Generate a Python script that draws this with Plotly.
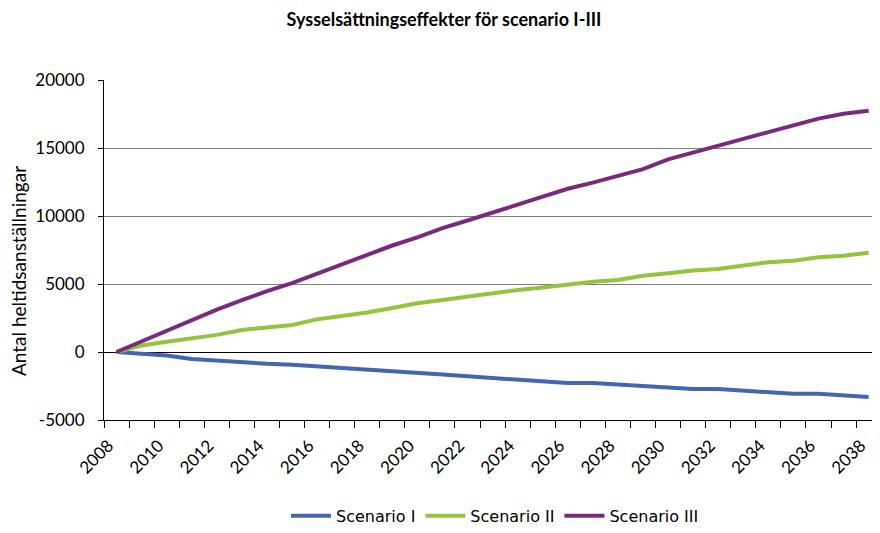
import plotly.graph_objects as go

# Years on the category axis
years = list(range(2008, 2039))

# Antal heltidsanställningar per scenario
scenario_1 = [0, -130, -260, -510, -650, -770, -860, -930, -1040, -1170,
              -1270, -1370, -1500, -1650, -1790, -1910, -2040, -2170, -2280, -2280,
              -2400, -2510, -2630, -2720, -2720, -2830, -2940, -3070, -3070, -3190,
              -3310]
scenario_2 = [0, 480, 760, 1030, 1260, 1620, 1800, 1990, 2400, 2650,
              2900, 3230, 3580, 3820, 4080, 4320, 4560, 4740, 4950, 5170,
              5300, 5600, 5790, 5990, 6100, 6360, 6600, 6710, 6970, 7080,
              7300]
scenario_3 = [0, 780, 1540, 2340, 3120, 3810, 4480, 5070, 5760, 6460,
              7110, 7830, 8430, 9110, 9670, 10280, 10830, 11420, 12000, 12450,
              12940, 13450, 14170, 14690, 15160, 15670, 16170, 16650, 17160, 17520,
              17740]

y_ticks = [-5000, 0, 5000, 10000, 15000, 20000]
y_ticktext = ['-5000', '0', '5000', '10000', '15000', '20000']

series = [
    ('Scenario I', scenario_1, '#4466B2'),
    ('Scenario II', scenario_2, '#93C43D'),
    ('Scenario III', scenario_3, '#7A2A7D'),
]

FONT = 'Lato, Open Sans, sans-serif'

fig = go.Figure()
for name, values, color in series:
    fig.add_trace(go.Scatter(x=years, y=values, mode='lines', name=name,
                             line=dict(color=color, width=4)))

# the page body has an 8px margin, so the figure is 864x517 and sits at (8, 8);
# plot area covers 104..872 x 80..420 in the window
x_end = years[0] - 0.5 + 768 / 25.07

fig.update_layout(
    width=864, height=517,
    margin=dict(l=96, r=0, t=72, b=105, autoexpand=False),
    paper_bgcolor='white', plot_bgcolor='white',
    font=dict(family=FONT, size=17, color='#000000'),
    title=dict(text='<b>Sysselsättningseffekter för scenario I-III</b>',
               font=dict(family=FONT, size=18, color='#000000'),
               x=436 / 864, xanchor='center', xref='container',
               y=1 - 12 / 517, yanchor='middle', yref='container',
               automargin=False),
    xaxis=dict(
        range=[years[0] - 0.5, x_end], automargin=False,
        tickmode='array', tickvals=years[::2], ticktext=[str(y) for y in years[::2]],
        tickangle=-45, ticks='', showgrid=False, zeroline=False,
        showline=True, linecolor='#000000', linewidth=1,
        ticklabelshift=-8, ticklabelstandoff=8,
        minor=dict(ticks='outside', ticklen=7, tickcolor='#000000', tickwidth=1,
                   tick0=years[0] - 0.5, dtick=1, showgrid=False),
    ),
    yaxis=dict(
        range=[-5000, 20000], automargin=False,
        tickmode='array', tickvals=y_ticks, ticktext=y_ticktext,
        ticks='outside', ticklen=5, tickcolor='#000000',
        showgrid=True, gridcolor='#7f7f7f', gridwidth=1,
        zeroline=True, zerolinecolor='#000000', zerolinewidth=1,
        showline=True, linecolor='#000000', linewidth=1,
        ticklabelstandoff=10,
    ),
    legend=dict(orientation='h', x=(495 - 104) / 768, xanchor='center', y=-0.232, yanchor='top',
                font=dict(family='DejaVu Sans, sans-serif', size=16, color='#000000'),
                itemwidth=40, tracegroupgap=0),
    showlegend=True,
    annotations=[dict(text='Antal heltidsanställningar', xref='paper', yref='paper',
                      x=(10 - 96) / 768, y=(412 - 263) / 340,
                      xanchor='center', yanchor='middle', showarrow=False,
                      textangle=-90, font=dict(family=FONT, size=19, color='#000000'))],
)

fig.write_html("out.html")
